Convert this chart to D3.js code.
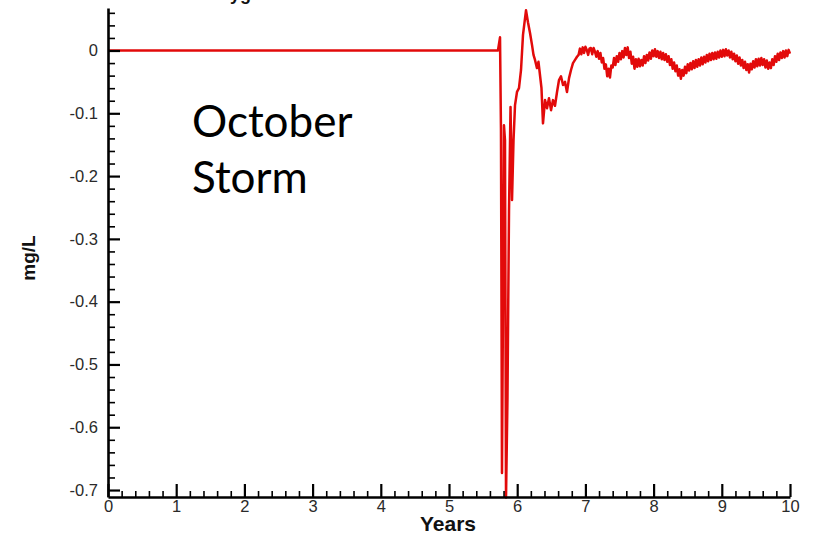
<!DOCTYPE html>
<html>
<head>
<meta charset="utf-8">
<script src="https://cdn.jsdelivr.net/npm/d3@7"></script>
<style>
  html, body { margin: 0; padding: 0; background: #fff; }
  svg { display: block; }
  .tick text { font-family: "Liberation Sans", Arial, sans-serif; font-size: 16.5px; fill: #2a2a2a; }
</style>
</head>
<body>
<svg id="chart" width="819" height="543"></svg>
<script>
// Bottom dissolved-oxygen difference (mg/L) over a 10-year run; storm event near year 5.8
const title = "Dissolved Oxygen Difference";
const xLabel = "Years";
const yLabel = "mg/L";
const annotation = ["October", "Storm"];

const xTicks = [0, 1, 2, 3, 4, 5, 6, 7, 8, 9, 10];
const yTicks = [0, -0.1, -0.2, -0.3, -0.4, -0.5, -0.6, -0.7];

// calm period, then the storm response
const stormYears = [0, 5.718, 5.748, 5.762, 5.777, 5.792, 5.806, 5.821, 5.836, 5.857, 5.880,
  5.902, 5.924, 5.946, 5.968, 5.997, 6.026, 6.056, 6.085, 6.129, 6.158, 6.188, 6.217, 6.239,
  6.261, 6.290, 6.312, 6.334, 6.356, 6.378, 6.408, 6.437, 6.466, 6.496, 6.525, 6.554, 6.584,
  6.613, 6.642, 6.672, 6.701, 6.730, 6.760, 6.789, 6.818, 6.848, 6.877];
const stormValues = [0, 0, 0.021, -0.127, -0.673, -0.397, -0.119, -0.143, -0.712, -0.556, -0.254,
  -0.090, -0.238, -0.143, -0.087, -0.066, -0.060, -0.031, 0.025, 0.064, 0.045, 0.028, 0.009, -0.007,
  -0.015, -0.028, -0.018, -0.039, -0.060, -0.116, -0.079, -0.092, -0.076, -0.095, -0.079, -0.088, -0.066,
  -0.047, -0.041, -0.055, -0.050, -0.066, -0.044, -0.031, -0.020, -0.015, -0.010];

// recovery: small fluctuations around zero, sampled every 0.02 yr from 6.90 to 10.00
const recoveryStart = 6.9;
const recoveryStep = 0.02;
const recoveryValues = [
  -0.007, 0.003, -0.006, 0.005, -0.004, 0.006, 0.001, -0.007, 0.003, 0.004,
  -0.006, 0.004, -0.002, -0.010, -0.001, -0.013, -0.004, -0.019, -0.012, -0.029,
  -0.022, -0.041, -0.029, -0.043, -0.024, -0.027, -0.012, -0.023, -0.009, -0.018,
  -0.004, -0.014, -0.001, -0.011, 0.004, -0.007, 0.005, -0.012, -0.002, -0.021,
  -0.010, -0.029, -0.014, -0.026, -0.013, -0.025, -0.015, -0.024, -0.009, -0.020,
  -0.007, -0.016, -0.003, -0.013, 0.000, -0.009, 0.002, -0.010, -0.001, -0.012,
  -0.002, -0.014, -0.004, -0.015, -0.006, -0.018, -0.009, -0.023, -0.014, -0.029,
  -0.019, -0.033, -0.024, -0.040, -0.030, -0.045, -0.031, -0.040, -0.026, -0.036,
  -0.022, -0.032, -0.020, -0.030, -0.017, -0.028, -0.015, -0.026, -0.014, -0.024,
  -0.011, -0.022, -0.010, -0.019, -0.007, -0.017, -0.005, -0.015, -0.004, -0.014,
  -0.003, -0.013, -0.002, -0.011, 0.000, -0.010, 0.001, -0.009, 0.002, -0.008,
  0.000, -0.011, -0.002, -0.014, -0.005, -0.017, -0.008, -0.021, -0.011, -0.024,
  -0.015, -0.028, -0.018, -0.031, -0.022, -0.035, -0.021, -0.030, -0.017, -0.027,
  -0.014, -0.025, -0.013, -0.024, -0.012, -0.023, -0.014, -0.027, -0.016, -0.029,
  -0.019, -0.028, -0.014, -0.023, -0.009, -0.018, -0.005, -0.015, -0.003, -0.012,
  -0.001, -0.011, 0.000, -0.009, 0.001, -0.005];

const series = stormYears.map((t, i) => [t, stormValues[i]])
  .concat(recoveryValues.map((v, i) => [+(recoveryStart + i * recoveryStep).toFixed(3), v]));

const svg = d3.select("#chart");
const plotLeft = 108, plotRight = 790, plotTop = 8, plotBottom = 497;

const x = d3.scaleLinear().domain([0, 10]).range([plotLeft, plotRight]);
const y = d3.scaleLinear().domain([-0.7111, 0.0677]).range([plotBottom, plotTop]);

const minorX = d3.range(0, 10.001, 0.2).filter(v => Math.abs(v - Math.round(v)) > 1e-6);
const minorY = d3.range(-0.7, 0.0601, 0.02).filter(v => Math.abs(v * 10 - Math.round(v * 10)) > 1e-6);

// title sits mostly above the visible area
svg.append("text")
  .attr("x", 116).attr("y", 0)
  .attr("font-family", "Liberation Sans, Arial, sans-serif")
  .attr("font-weight", "bold").attr("font-size", 18)
  .attr("fill", "#111")
  .text(title);

// data line
const line = d3.line().x(d => x(d[0])).y(d => y(d[1]));
svg.append("path")
  .datum(series)
  .attr("d", line)
  .attr("fill", "none")
  .attr("stroke", "#e20a0a")
  .attr("stroke-width", 2.5)
  .attr("stroke-linejoin", "round");

// minor ticks (inward)
svg.append("g").attr("transform", `translate(0,${plotBottom})`)
  .call(d3.axisBottom(x).tickValues(minorX).tickSize(-6).tickFormat(""))
  .call(g => g.select(".domain").remove())
  .selectAll("line").attr("stroke", "#000").attr("stroke-width", 1.6);
svg.append("g").attr("transform", `translate(${plotLeft},0)`)
  .call(d3.axisLeft(y).tickValues(minorY).tickSize(-7).tickFormat(""))
  .call(g => g.select(".domain").remove())
  .selectAll("line").attr("stroke", "#000").attr("stroke-width", 1.6);

// major axes
const fmt = d => d === 0 ? "0" : d3.format(".1f")(d).replace("−", "-");
const xAxis = svg.append("g").attr("transform", `translate(0,${plotBottom})`)
  .call(d3.axisBottom(x).tickValues(xTicks).tickSize(-13).tickSizeOuter(0).tickPadding(3).tickFormat(d3.format("d")));
const yAxis = svg.append("g").attr("transform", `translate(${plotLeft},0)`)
  .call(d3.axisLeft(y).tickValues(yTicks).tickSize(-12).tickSizeOuter(0).tickPadding(10).tickFormat(fmt));
[xAxis, yAxis].forEach(a => {
  a.select(".domain").attr("stroke", "#000").attr("stroke-width", 2.6);
  a.selectAll(".tick line").attr("stroke", "#000").attr("stroke-width", 2.2);
});

// axis titles
svg.append("text")
  .attr("x", 448).attr("y", 531)
  .attr("text-anchor", "middle")
  .attr("font-family", "Liberation Sans, Arial, sans-serif")
  .attr("font-weight", "bold").attr("font-size", 21)
  .attr("fill", "#111")
  .text(xLabel);
svg.append("text")
  .attr("transform", "translate(35,258) rotate(-90)")
  .attr("text-anchor", "middle")
  .attr("font-family", "Liberation Sans, Arial, sans-serif")
  .attr("font-weight", "bold").attr("font-size", 19)
  .attr("fill", "#111")
  .text(yLabel);

// event annotation
const note = svg.append("text")
  .attr("font-family", "Lato, 'Open Sans', sans-serif")
  .attr("font-size", 44)
  .attr("fill", "#000");
annotation.forEach((s, i) => {
  note.append("tspan").attr("x", 192).attr("y", 137 + i * 56).text(s);
});
</script>
</body>
</html>
